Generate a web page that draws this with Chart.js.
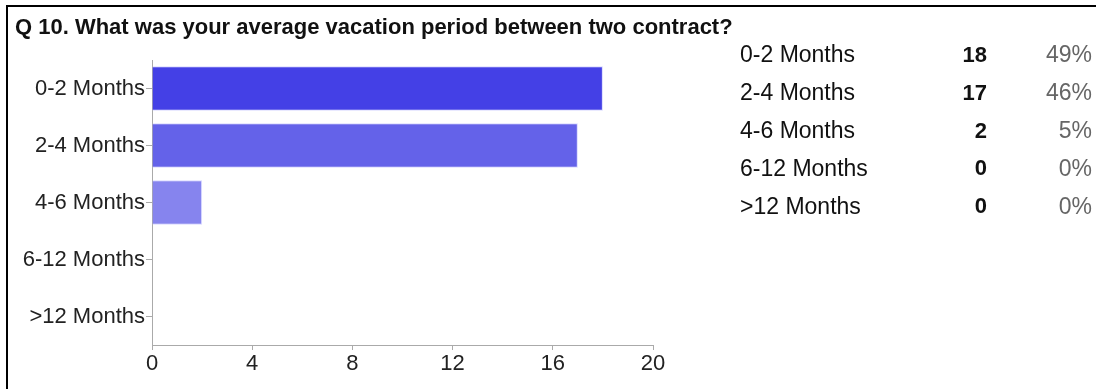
<!DOCTYPE html>
<html>
<head>
<meta charset="utf-8">
<script src="https://cdn.jsdelivr.net/npm/chart.js@4/dist/chart.umd.min.js"></script>
<style>
  html, body { margin: 0; padding: 0; background: #fff; }
  #wrap { width: 1096px; height: 389px; position: relative; }
</style>
</head>
<body>
<div id="wrap"><canvas id="surveyChart" width="1096" height="389"></canvas></div>
<script>
const title = "Q 10. What was your average vacation period between two contract?";
const categories = ["0-2 Months", "2-4 Months", "4-6 Months", "6-12 Months", ">12 Months"];
const counts = [18, 17, 2, 0, 0];
const barColors = ["#4440e6", "#6462e9", "#8684ee", "#a6a4f2", "#c4c3f6"];
const xTicks = [0, 4, 8, 12, 16, 20];

const FONT = "'Liberation Sans', Arial, sans-serif";
const total = counts.reduce((a, b) => a + b, 0);

// frame, title and the summary table on the right
const extras = {
  id: "extras",
  afterDraw(chart) {
    const ctx = chart.ctx;
    ctx.save();
    ctx.fillStyle = "#000";
    ctx.fillRect(6, 5, 1090, 2);
    ctx.fillRect(6, 5, 2, 384);

    ctx.font = "bold 22px " + FONT;
    ctx.textBaseline = "middle";
    ctx.textAlign = "left";
    ctx.fillStyle = "#111";
    ctx.fillText(title, 15, 28);

    for (let i = 0; i < categories.length; i++) {
      const y = 56 + i * 37.8;
      ctx.textAlign = "left";
      ctx.fillStyle = "#111";
      ctx.font = "23px " + FONT;
      ctx.fillText(categories[i], 740, y);
      ctx.textAlign = "right";
      ctx.font = "bold 22px " + FONT;
      ctx.fillText(String(counts[i]), 987, y);
      ctx.font = "23px " + FONT;
      ctx.fillStyle = "#666";
      ctx.fillText(Math.round(counts[i] / total * 100) + "%", 1092, y);
    }
    ctx.restore();
  }
};

new Chart(document.getElementById("surveyChart"), {
  type: "bar",
  data: {
    labels: categories,
    datasets: [{
      data: counts,
      backgroundColor: barColors,
      borderColor: "rgba(200,200,255,0.7)",
      borderWidth: 1,
      barPercentage: 0.78,
      categoryPercentage: 1
    }]
  },
  options: {
    indexAxis: "y",
    responsive: false,
    animation: false,
    layout: { padding: { top: 60, right: 443, left: 0, bottom: 0 } },
    plugins: { legend: { display: false }, tooltip: { enabled: false } },
    scales: {
      x: {
        min: 0,
        max: 20,
        afterBuildTicks(scale) { scale.ticks = xTicks.map(v => ({ value: v })); },
        afterFit(scale) { scale.height = 44; },
        grid: { drawOnChartArea: false, color: "#aaa", tickLength: 5 },
        border: { color: "#aaa", width: 1 },
        ticks: { color: "#222", font: { family: FONT, size: 22 }, padding: 1 }
      },
      y: {
        afterFit(scale) { scale.width = 152; },
        grid: { drawOnChartArea: false, color: "#aaa", tickLength: 6, offset: false },
        border: { color: "#aaa", width: 1 },
        ticks: { color: "#222", font: { family: FONT, size: 22 }, padding: 1 }
      }
    }
  },
  plugins: [extras]
});
</script>
</body>
</html>
